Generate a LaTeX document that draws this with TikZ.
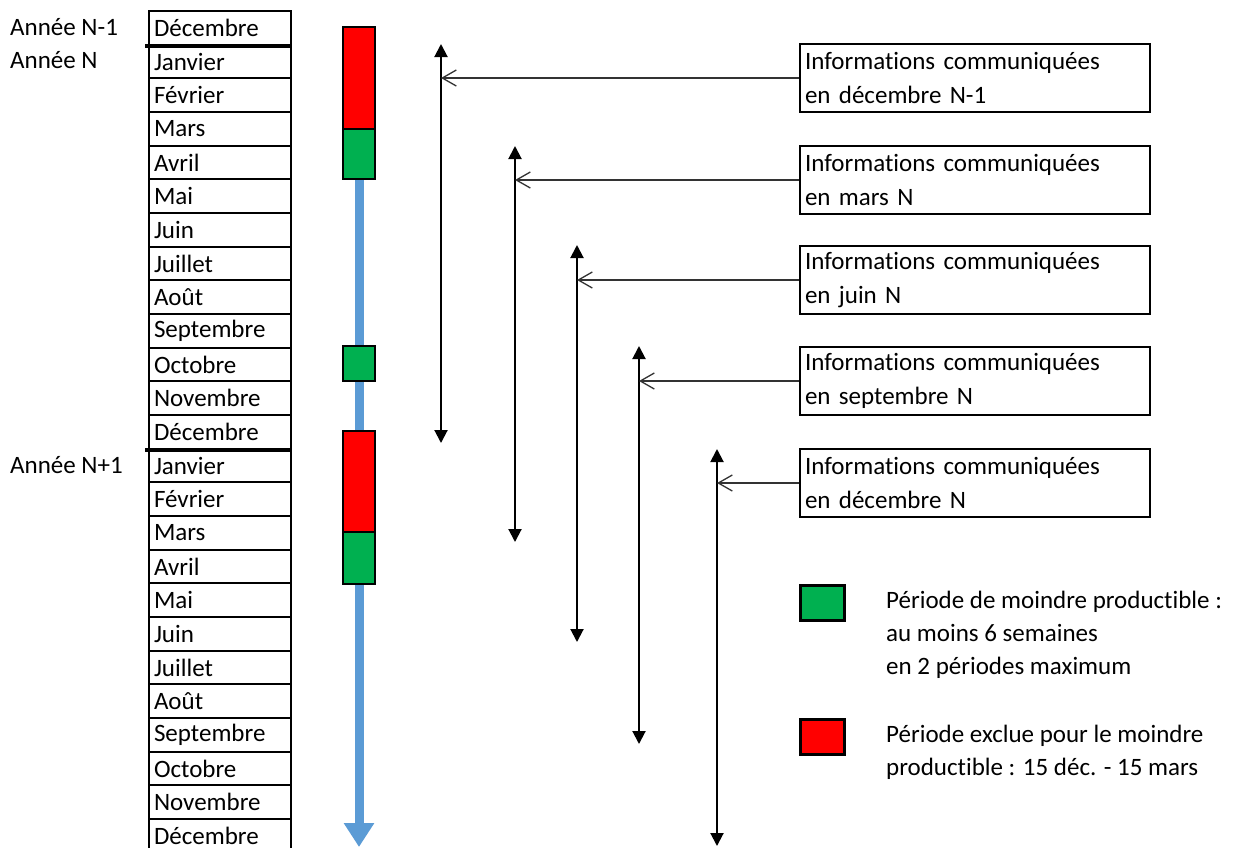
\documentclass[tikz,border=0pt]{standalone}
\usepackage{fontspec}
\setmainfont[Ligatures=NoCommon]{Carlito}
\usetikzlibrary{arrows.meta}
\definecolor{redC}{HTML}{FF0000}
\definecolor{greenC}{HTML}{00B050}
\definecolor{blueC}{HTML}{5B9BD5}
\begin{document}
\begin{tikzpicture}[x=1pt,y=-1pt,
  font=\fontsize{25}{34}\selectfont,
  cell/.style={draw, line width=2pt, minimum width=142pt, minimum height=33.67pt,
    text width=132pt, align=left, inner xsep=5pt, inner ysep=0pt, anchor=north west},
  infobox/.style={draw, line width=2pt, minimum width=350pt, minimum height=68pt,
    text width=340pt, align=left, inner xsep=5pt, inner ysep=0pt, anchor=north west},
  yearlbl/.style={anchor=west, inner xsep=5pt, inner ysep=0pt},
  legtext/.style={anchor=west, align=left, inner xsep=5pt, inner ysep=0pt, font=\fontsize{25}{33}\selectfont},
  block/.style={draw, line width=2pt},
  bluebar/.style={line width=9pt, color=blueC},
  period/.style={line width=2pt, {Triangle[width=13pt,length=13pt]}-{Triangle[width=13pt,length=13pt]}},
  link/.style={line width=1.3pt, color=black!80, -{Straight Barb[length=14pt,width=16pt,line width=1.3pt]}},
  legbox/.style={draw, line width=2.5pt, minimum width=44pt, minimum height=35pt, anchor=north west, inner sep=0pt}
]
\useasboundingbox (0,0) rectangle (1236,847);

% month column
\foreach \m [count=\i from 0] in {Décembre,Janvier,Février,Mars,Avril,Mai,Juin,Juillet,Août,Septembre,Octobre,Novembre,Décembre,Janvier,Février,Mars,Avril,Mai,Juin,Juillet,Août,Septembre,Octobre,Novembre,Décembre}
  \node[cell] (m\i) at (148,{10+33.67*\i}) {\m};

% year separators
\draw[line width=4pt] ([xshift=-3pt]m0.south west) -- (m0.south east);
\draw[line width=4pt] ([xshift=-3pt]m12.south west) -- (m12.south east);

% year labels
\node[yearlbl] (y1) at (5,{10+33.67*0.5}) {Année N-1};
\node[yearlbl] (y2) at (5,{10+33.67*1.5}) {Année N};
\node[yearlbl] (y3) at (5,{10+33.67*13.5}) {Année N+1};

% blue timeline
\draw[bluebar] (359,179) -- (359,346);
\draw[bluebar] (359,381) -- (359,431);
\draw[bluebar, -{Triangle[width=29pt,length=24pt]}] (359,584) -- (359,847);

% coloured periods
\draw[block, fill=redC] (343,27) rectangle (375,129);
\draw[block, fill=greenC] (343,129) rectangle (375,179);
\draw[block, fill=greenC] (343,346) rectangle (375,381);
\draw[block, fill=redC] (343,431) rectangle (375,532);
\draw[block, fill=greenC] (343,532) rectangle (375,584);

% information boxes
\node[infobox] (b1) at (799,43) {Informations communiquées\\en décembre N-1};
\node[infobox] (b2) at (799,145) {Informations communiquées\\en mars N};
\node[infobox] (b3) at (799,245) {Informations communiquées\\en juin N};
\node[infobox] (b4) at (799,346) {Informations communiquées\\en septembre N};
\node[infobox] (b5) at (799,448) {Informations communiquées\\en décembre N};

% period arrows
\coordinate (a1t) at (441,44);  \coordinate (a1b) at (441,443);
\coordinate (a2t) at (515,146); \coordinate (a2b) at (515,542);
\coordinate (a3t) at (577,245); \coordinate (a3b) at (577,642);
\coordinate (a4t) at (639,346); \coordinate (a4b) at (639,744);
\coordinate (a5t) at (717,449); \coordinate (a5b) at (717,846);
\draw[period] (a1t) -- (a1b);
\draw[period] (a2t) -- (a2b);
\draw[period] (a3t) -- (a3b);
\draw[period] (a4t) -- (a4b);
\draw[period] (a5t) -- (a5b);

\draw[link] (b1.west) -- (b1.west -| a1t);
\draw[link] (b2.west) -- (b2.west -| a2t);
\draw[link] (b3.west) -- (b3.west -| a3t);
\draw[link] (b4.west) -- (b4.west -| a4t);
\draw[link] (b5.west) -- (b5.west -| a5t);

% legend
\node[legbox, fill=greenC] (lg) at (799,584) {};
\node[legbox, fill=redC] (lr) at (799,718) {};
\node[legtext] (tg) at (881,635) {Période de moindre productible :\\au moins 6 semaines\\en 2 périodes maximum};
\node[legtext] (tr) at (881,752) {Période exclue pour le moindre\\productible : 15 déc. - 15 mars};
\end{tikzpicture}
\end{document}
